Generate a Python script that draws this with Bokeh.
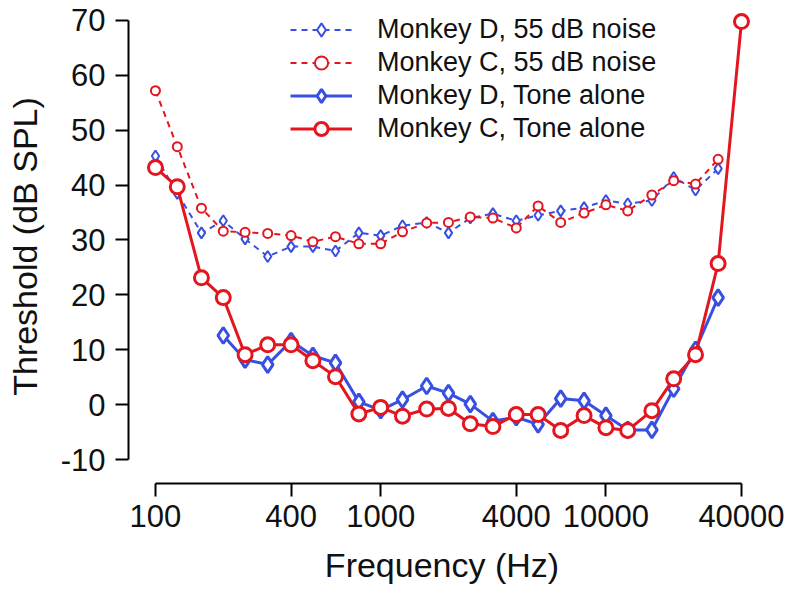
from bokeh.plotting import figure
from bokeh.models import Range1d, FixedTicker, Legend, LegendItem
from bokeh.embed import file_html
from bokeh.resources import INLINE

# Frequencies (Hz), 1/3-octave steps
freqs = [100, 125, 160, 200, 250, 315, 400, 500, 630, 800, 1000, 1250, 1600,
         2000, 2500, 3150, 4000, 5000, 6300, 8000, 10000, 12500, 16000,
         20000, 25000, 31500, 40000]

# Thresholds (dB SPL)
monkey_d_noise = [45.3, 38.5, 31.3, 33.5, 30.2, 27.0, 28.8, 28.8, 28.0, 31.3,
                  30.8, 32.6, 33.2, 31.3, 34.0, 34.8, 33.5, 34.5, 35.3, 35.9,
                  37.2, 36.6, 37.2, 41.4, 39.1, 43.0]
monkey_c_noise = [57.2, 47.0, 35.8, 31.6, 31.4, 31.2, 30.8, 29.7, 30.6, 29.3,
                  29.3, 31.5, 33.1, 33.2, 34.2, 34.0, 32.2, 36.2, 33.2, 34.9,
                  36.4, 35.3, 38.2, 40.8, 40.2, 44.7]
monkey_d_tone_start = 3
monkey_d_tone = [12.6, 8.2, 7.3, 11.6, 8.9, 7.6, 0.5, -1.0, 0.9, 3.4, 2.1, 0.1,
                 -3.0, -2.3, -3.6, 1.1, 0.7, -2.0, -4.6, -4.6, 2.9, 10.0, 19.5]
monkey_c_tone = [43.2, 39.7, 23.1, 19.5, 9.1, 10.9, 10.9, 8.0, 5.1, -1.7, -0.5,
                 -2.1, -0.8, -0.7, -3.5, -4.0, -1.8, -1.8, -4.7, -2.0, -4.2,
                 -4.7, -1.1, 4.7, 9.1, 25.7, 69.8]

x_ticks = [100, 400, 1000, 4000, 10000, 40000]
x_tick_labels = ["100", "400", "1000", "4000", "10000", "40000"]
y_ticks = [-10, 0, 10, 20, 30, 40, 50, 60, 70]
y_tick_labels = ["-10", "0", "10", "20", "30", "40", "50", "60", "70"]

labels = ["Monkey D, 55 dB noise", "Monkey C, 55 dB noise",
          "Monkey D, Tone alone", "Monkey C, Tone alone"]

BLUE = "#3850E2"
RED = "#E3161F"
FONT = "Liberation Sans"

p = figure(width=789, height=590, x_axis_type="log",
           x_range=Range1d(75.9, 46160), y_range=Range1d(-14.37, 72.0),
           output_backend="svg", toolbar_location=None,
           min_border_left=128, min_border_right=34,
           min_border_top=9, min_border_bottom=107)
p.outline_line_color = None
p.xgrid.visible = False
p.ygrid.visible = False
p.background_fill_color = "white"
p.border_fill_color = "white"

for ax in (p.xaxis[0], p.yaxis[0]):
    ax.axis_line_width = 2
    ax.axis_line_color = "black"
    ax.major_tick_line_width = 2
    ax.major_tick_line_color = "black"
    ax.major_tick_out = 13
    ax.major_tick_in = 0
    ax.minor_tick_line_color = None
    ax.major_label_text_font = FONT
    ax.major_label_text_font_size = "31px"
    ax.major_label_text_color = "#111111"
    ax.axis_label_text_font = FONT
    ax.axis_label_text_font_size = "34px"
    ax.axis_label_text_font_style = "normal"
    ax.axis_label_text_color = "#111111"

p.xaxis.ticker = FixedTicker(ticks=x_ticks, minor_ticks=[])
p.xaxis.major_label_overrides = dict(zip(x_ticks, x_tick_labels))
p.xaxis.bounds = (x_ticks[0], x_ticks[-1])
p.xaxis.axis_label = "Frequency (Hz)"
p.xaxis.major_label_standoff = 8
p.xaxis.axis_label_standoff = 16

p.yaxis.ticker = FixedTicker(ticks=y_ticks, minor_ticks=[])
p.yaxis.major_label_overrides = dict(zip(y_ticks, y_tick_labels))
p.yaxis.bounds = (y_ticks[0], y_ticks[-1])
p.yaxis.axis_label = "Threshold (dB SPL)"
p.yaxis.major_label_standoff = 10
p.yaxis.axis_label_standoff = 14

series = [
    (freqs[:len(monkey_d_noise)], monkey_d_noise, BLUE, "diamond", 11, 2, "6 5", 2),
    (freqs[:len(monkey_c_noise)], monkey_c_noise, RED, "circle", 9, 2, "6 5", 2),
    (freqs[monkey_d_tone_start:monkey_d_tone_start + len(monkey_d_tone)],
     monkey_d_tone, BLUE, "diamond", 16, 3, "solid", 3),
    (freqs[:len(monkey_c_tone)], monkey_c_tone, RED, "circle", 14, 3, "solid", 3),
]

items = []
for (xs, ys, col, mk, sz, lw, dash, mlw), lab in zip(series, labels):
    lr = p.line(xs, ys, line_color=col, line_width=lw, line_dash=dash)
    sr = p.scatter(xs, ys, marker=mk, size=sz, line_color=col,
                   line_width=mlw, fill_color="white")
    items.append(LegendItem(label=lab, renderers=[lr, sr]))

legend = Legend(items=items, location=(162, 338), orientation="vertical",
                glyph_width=62, glyph_height=33, label_height=33, spacing=0,
                label_standoff=25, padding=0, margin=0,
                border_line_color=None, background_fill_alpha=0,
                label_text_font=FONT, label_text_font_size="27px",
                label_text_color="#111111", label_text_baseline="middle")
p.add_layout(legend)

open("out.html", "w").write(file_html(p, INLINE))
